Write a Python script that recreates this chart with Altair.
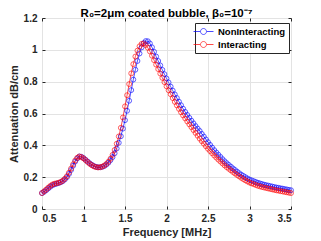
import altair as alt
import pandas as pd

f_start, f_step, n_pts = 0.5, 0.025, 121
freq = [round(f_start + i * f_step, 3) for i in range(n_pts)]

non_interacting = [
    0.100, 0.108, 0.118, 0.129, 0.140, 0.149, 0.155, 0.159, 0.163, 0.168,
    0.175, 0.186, 0.200, 0.220, 0.245, 0.272, 0.298, 0.318, 0.330, 0.328,
    0.320, 0.309, 0.298, 0.287, 0.278, 0.270, 0.265, 0.262, 0.262, 0.265,
    0.270, 0.279, 0.291, 0.307, 0.326, 0.350, 0.380, 0.416, 0.457, 0.505,
    0.558, 0.617, 0.680, 0.747, 0.813, 0.875, 0.930, 0.977, 1.015, 1.042,
    1.055, 1.054, 1.040, 1.016, 0.988, 0.958, 0.930, 0.902, 0.874, 0.847,
    0.820, 0.795, 0.769, 0.744, 0.720, 0.697, 0.674, 0.652, 0.630, 0.610,
    0.591, 0.573, 0.555, 0.538, 0.521, 0.505, 0.490, 0.472, 0.455, 0.437,
    0.420, 0.403, 0.386, 0.370, 0.355, 0.341, 0.327, 0.313, 0.300, 0.288,
    0.277, 0.266, 0.255, 0.245, 0.235, 0.225, 0.216, 0.208, 0.200, 0.192,
    0.185, 0.180, 0.175, 0.170, 0.165, 0.161, 0.157, 0.153, 0.150, 0.147,
    0.144, 0.141, 0.138, 0.135, 0.133, 0.130, 0.128, 0.125, 0.123, 0.120,
    0.118,
]

interacting = [
    0.100, 0.111, 0.122, 0.134, 0.145, 0.154, 0.159, 0.162, 0.165, 0.170,
    0.178, 0.190, 0.206, 0.228, 0.254, 0.281, 0.305, 0.322, 0.330, 0.326,
    0.318, 0.307, 0.295, 0.284, 0.275, 0.268, 0.263, 0.261, 0.262, 0.266,
    0.273, 0.283, 0.297, 0.316, 0.340, 0.371, 0.410, 0.456, 0.510, 0.575,
    0.645, 0.715, 0.785, 0.852, 0.910, 0.958, 0.995, 1.022, 1.037, 1.040,
    1.030, 1.013, 0.990, 0.963, 0.935, 0.907, 0.879, 0.851, 0.824, 0.797,
    0.771, 0.746, 0.721, 0.697, 0.673, 0.651, 0.629, 0.608, 0.588, 0.569,
    0.550, 0.532, 0.514, 0.496, 0.478, 0.460, 0.442, 0.426, 0.410, 0.394,
    0.378, 0.364, 0.350, 0.336, 0.323, 0.310, 0.298, 0.286, 0.274, 0.263,
    0.253, 0.243, 0.233, 0.223, 0.214, 0.205, 0.196, 0.188, 0.180, 0.173,
    0.166, 0.161, 0.156, 0.151, 0.146, 0.142, 0.138, 0.135, 0.132, 0.129,
    0.126, 0.123, 0.120, 0.117, 0.115, 0.112, 0.110, 0.107, 0.105, 0.102,
    0.100,
]

series_names = ["NonInteracting", "Interacting"]
series_colors = ["#0000ff", "#ff0000"]
x_ticks = [0.5, 1, 1.5, 2, 2.5, 3, 3.5]
y_ticks = [0, 0.2, 0.4, 0.6, 0.8, 1, 1.2]

df = pd.concat([
    pd.DataFrame({"freq": freq, "att": non_interacting, "series": series_names[0], "ord": 0}),
    pd.DataFrame({"freq": freq, "att": interacting, "series": series_names[1], "ord": 1}),
], ignore_index=True)

FONT = "Liberation Sans"
INK = "#262626"

xscale = alt.Scale(domain=[0.5, 3.5], nice=False, zero=False)
yscale = alt.Scale(domain=[0, 1.2], nice=False, zero=False)

color = alt.Color(
    "series:N",
    scale=alt.Scale(domain=series_names, range=series_colors),
    legend=alt.Legend(
        title=None,
        orient="none",
        legendX=153,
        legendY=5,
        symbolType="M-2,0L-0.62,0M0.62,0L2,0M0.6,0A0.6,0.6,0,1,1,-0.6,0A0.6,0.6,0,1,1,0.6,0",
        symbolSize=100,
        symbolStrokeWidth=1,
        labelFont=FONT,
        labelFontSize=9.5,
        labelFontWeight="bold",
        labelColor="#000000",
        labelOffset=9,
        padding=3,
        rowPadding=2,
        strokeColor=INK,
        fillColor="#ffffff",
        cornerRadius=0,
    ),
)

x_main = alt.X(
    "freq:Q", scale=xscale,
    axis=alt.Axis(
        orient="bottom", values=x_ticks, format="~g", title="Frequency [MHz]",
        domain=False, ticks=False, grid=True, gridColor="#e3e3e3",
        labelFont=FONT, labelFontSize=10, labelFontWeight="bold", labelColor=INK,
        labelPadding=4, titleFont=FONT, titleFontSize=11, titleFontWeight="bold",
        titleColor=INK, titlePadding=3,
    ),
)
y_main = alt.Y(
    "att:Q", scale=yscale,
    axis=alt.Axis(
        orient="left", values=y_ticks, format="~g", title="Attenuation dB/cm",
        domain=False, ticks=False, grid=True, gridColor="#e3e3e3",
        labelFont=FONT, labelFontSize=10, labelFontWeight="bold", labelColor=INK,
        labelPadding=5, titleFont=FONT, titleFontSize=11, titleFontWeight="bold",
        titleColor=INK, titlePadding=4,
    ),
)

base = alt.Chart(df).encode(x=x_main, y=y_main, color=color, detail="series:N", order="ord:Q")
lines = base.mark_line(strokeWidth=0.7)
points = base.mark_point(shape="circle", filled=False, size=24, strokeWidth=0.9)
main = alt.layer(lines, points)


def tick_axis(orient_x, orient_y):
    return alt.Chart(df).mark_point(opacity=0).encode(
        x=alt.X("freq:Q", scale=xscale, axis=alt.Axis(
            orient=orient_x, values=x_ticks, labels=False, title=None, domain=False,
            grid=False, tickSize=3, tickColor=INK, offset=-3)),
        y=alt.Y("att:Q", scale=yscale, axis=alt.Axis(
            orient=orient_y, values=y_ticks, labels=False, title=None, domain=False,
            grid=False, tickSize=3, tickColor=INK, offset=-3)),
    )


chart = alt.layer(
    main, tick_axis("bottom", "left"), tick_axis("top", "right")
).resolve_axis(x="independent", y="independent").properties(
    width=249,
    height=191,
    autosize=alt.AutoSizeParams(type="none"),
    padding={"left": 34, "top": 10, "right": 22, "bottom": 32},
    title=alt.Title(
        "R\u2080=2\u03bcm coated bubble, \u03b2\u2080=10\u207b\u2077",
        font=FONT, fontSize=11.5, fontWeight="bold", color="#000000", offset=4, dy=10.5,
    ),
).configure_view(stroke=INK, strokeWidth=1).configure(background="#ffffff")

chart.save("out.html", embed_options={"renderer": "svg", "actions": False})
